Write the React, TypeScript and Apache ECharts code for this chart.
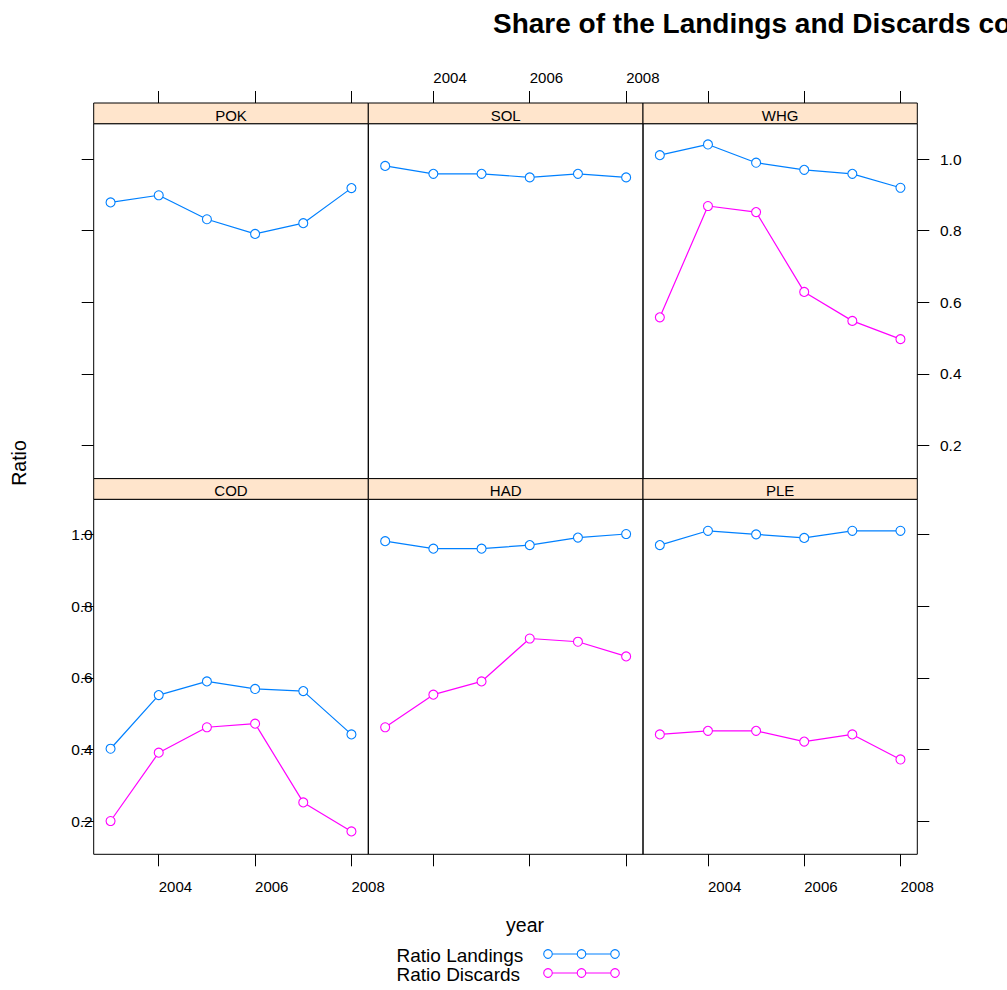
import React, { useEffect, useRef } from "react";
import * as echarts from "echarts";

const years = [2003, 2004, 2005, 2006, 2007, 2008];
const xTicks = [2004, 2006, 2008];
const yTicks = [0.2, 0.4, 0.6, 0.8, 1.0];

const pokLandings = [0.879, 0.899, 0.832, 0.791, 0.821, 0.919];
const solLandings = [0.981, 0.959, 0.959, 0.949, 0.959, 0.949];
const whgLandings = [1.011, 1.041, 0.99, 0.97, 0.959, 0.92];
const whgDiscards = [0.558, 0.869, 0.852, 0.629, 0.548, 0.497];
const codLandings = [0.402, 0.552, 0.59, 0.569, 0.563, 0.442];
const codDiscards = [0.2, 0.391, 0.462, 0.472, 0.252, 0.171];
const hadLandings = [0.982, 0.961, 0.961, 0.971, 0.992, 1.002];
const hadDiscards = [0.462, 0.553, 0.59, 0.71, 0.701, 0.66];
const pleLandings = [0.971, 1.011, 1.001, 0.991, 1.011, 1.011];
const pleDiscards = [0.442, 0.452, 0.452, 0.422, 0.442, 0.372];

const titleText = "Share of the Landings and Discards co";
const xName = "year";
const yName = "Ratio";
const legendNames = ["Ratio Landings", "Ratio Discards"];
const colors = ["#0080ff", "#ff00ff"];

type Panel = { name: string; row: number; col: number; landings: number[]; discards: number[] | null };
const panels: Panel[] = [
  { name: "POK", row: 0, col: 0, landings: pokLandings, discards: null },
  { name: "SOL", row: 0, col: 1, landings: solLandings, discards: null },
  { name: "WHG", row: 0, col: 2, landings: whgLandings, discards: whgDiscards },
  { name: "COD", row: 1, col: 0, landings: codLandings, discards: codDiscards },
  { name: "HAD", row: 1, col: 1, landings: hadLandings, discards: hadDiscards },
  { name: "PLE", row: 1, col: 2, landings: pleLandings, discards: pleDiscards },
];

const FONT = "'Liberation Sans', Arial, Helvetica, sans-serif";
const colEdges = [93.7, 368.3, 643, 917.3];
const rowTops = [123.7, 499.3];
const panelH = 355;
const stripH = 20.7;

export default function App() {
  const ref = useRef<HTMLDivElement>(null);
  useEffect(() => {
    if (!ref.current) return;
    const chart = echarts.init(ref.current, null, { renderer: "svg" });

    const grids: any[] = [];
    const xAxes: any[] = [];
    const yAxes: any[] = [];
    const series: any[] = [];
    const graphics: any[] = [];

    panels.forEach((p, i) => {
      const left = colEdges[p.col];
      const width = colEdges[p.col + 1] - colEdges[p.col];
      const top = rowTops[p.row];
      grids.push({
        left,
        top,
        width,
        height: panelH,
        show: true,
        borderColor: "#000",
        borderWidth: 1,
        backgroundColor: "transparent",
        containLabel: false,
      });
      const isTop = p.row === 0;
      const showXLabel = isTop ? p.col === 1 : p.col !== 1;
      xAxes.push({
        type: "value",
        gridIndex: i,
        min: 2002.65,
        max: 2008.35,
        position: isTop ? "top" : "bottom",
        offset: isTop ? stripH : 0,
        axisLine: { show: false },
        splitLine: { show: false },
        axisTick: {
          show: true,
          customValues: xTicks,
          length: 12,
          inside: false,
          lineStyle: { color: "#000", width: 1 },
        },
        axisLabel: {
          show: showXLabel,
          customValues: xTicks,
          align: "left",
          margin: isTop ? 18.5 : 25,
          fontSize: 15,
          fontFamily: FONT,
          color: "#000",
          formatter: (v: number) => String(v),
        },
      });
      const yPos = p.col === 2 ? "right" : "left";
      const showYTick = p.col !== 1;
      const showYLabel = (p.row === 0 && p.col === 2) || (p.row === 1 && p.col === 0);
      yAxes.push({
        type: "value",
        gridIndex: i,
        min: 0.107,
        max: 1.099,
        position: yPos,
        axisLine: { show: false },
        splitLine: { show: false },
        axisTick: {
          show: showYTick,
          customValues: yTicks,
          length: 12,
          inside: false,
          lineStyle: { color: "#000", width: 1 },
        },
        axisLabel: {
          show: showYLabel,
          customValues: yTicks,
          margin: p.col === 2 ? 22.7 : 1,
          padding: p.col === 2 ? [4, 0, 0, 0] : [6, 0, 0, 0],
          fontSize: 15.5,
          fontFamily: FONT,
          color: "#000",
          formatter: (v: number) => v.toFixed(1),
        },
      });
      const mk = (arr: number[], ci: number, name: string) => ({
        type: "line",
        name,
        xAxisIndex: i,
        yAxisIndex: i,
        data: years.map((y, k) => [y, arr[k]]),
        symbol: "circle",
        symbolSize: 9,
        showSymbol: true,
        lineStyle: { color: colors[ci], width: 1.2 },
        itemStyle: { color: "#fff", borderColor: colors[ci], borderWidth: 1.1 },
        emphasis: { disabled: true },
        silent: true,
      });
      series.push(mk(p.landings, 0, legendNames[0]));
      if (p.discards) series.push(mk(p.discards, 1, legendNames[1]));

      const stripTop = top - stripH;
      graphics.push({
        type: "rect",
        shape: { x: left, y: stripTop, width, height: stripH },
        style: { fill: "#ffe5cc", stroke: "#000", lineWidth: 1 },
        z: 10,
      });
      graphics.push({
        type: "text",
        x: left + width / 2,
        y: stripTop + 12,
        style: {
          text: p.name,
          fill: "#000",
          font: `15px ${FONT}`,
          align: "center",
          verticalAlign: "middle",
        },
        z: 11,
      });
    });

    // title
    graphics.push({
      type: "text",
      x: 493,
      y: 23,
      style: {
        text: titleText,
        fill: "#000",
        font: `bold 28px ${FONT}`,
        align: "left",
        verticalAlign: "middle",
      },
    });
    // axis names
    graphics.push({
      type: "text",
      x: 525,
      y: 925,
      style: { text: xName, fill: "#000", font: `19.5px ${FONT}`, align: "center", verticalAlign: "middle" },
    });
    graphics.push({
      type: "text",
      x: 19,
      y: 463,
      rotation: Math.PI / 2,
      style: { text: yName, fill: "#000", font: `19.5px ${FONT}`, align: "center", verticalAlign: "middle" },
    });
    // legend
    const legY = [955.5, 974.5];
    legendNames.forEach((n, k) => {
      graphics.push({
        type: "text",
        x: 396.5,
        y: legY[k],
        style: { text: n, fill: "#000", font: `19px ${FONT}`, align: "left", verticalAlign: "middle" },
      });
      graphics.push({
        type: "line",
        shape: { x1: 548, y1: legY[k] - 1.5, x2: 615, y2: legY[k] - 1.5 },
        style: { stroke: colors[k], lineWidth: 1.2 },
      });
      [548, 581.5, 615].forEach((cx) => {
        graphics.push({
          type: "circle",
          shape: { cx, cy: legY[k] - 1.5, r: 4.3 },
          style: { stroke: colors[k], fill: "#fff", lineWidth: 1.1 },
          z: 2,
        });
      });
    });

    chart.setOption({
      animation: false,
      backgroundColor: "#fff",
      textStyle: { fontFamily: FONT },
      grid: grids,
      xAxis: xAxes,
      yAxis: yAxes,
      series,
      graphic: { elements: graphics },
    });
    return () => chart.dispose();
  }, []);
  return (
    <div
      ref={ref}
      style={{ position: "absolute", left: 0, top: 0, width: 1007, height: 990, overflow: "hidden" }}
    />
  );
}
